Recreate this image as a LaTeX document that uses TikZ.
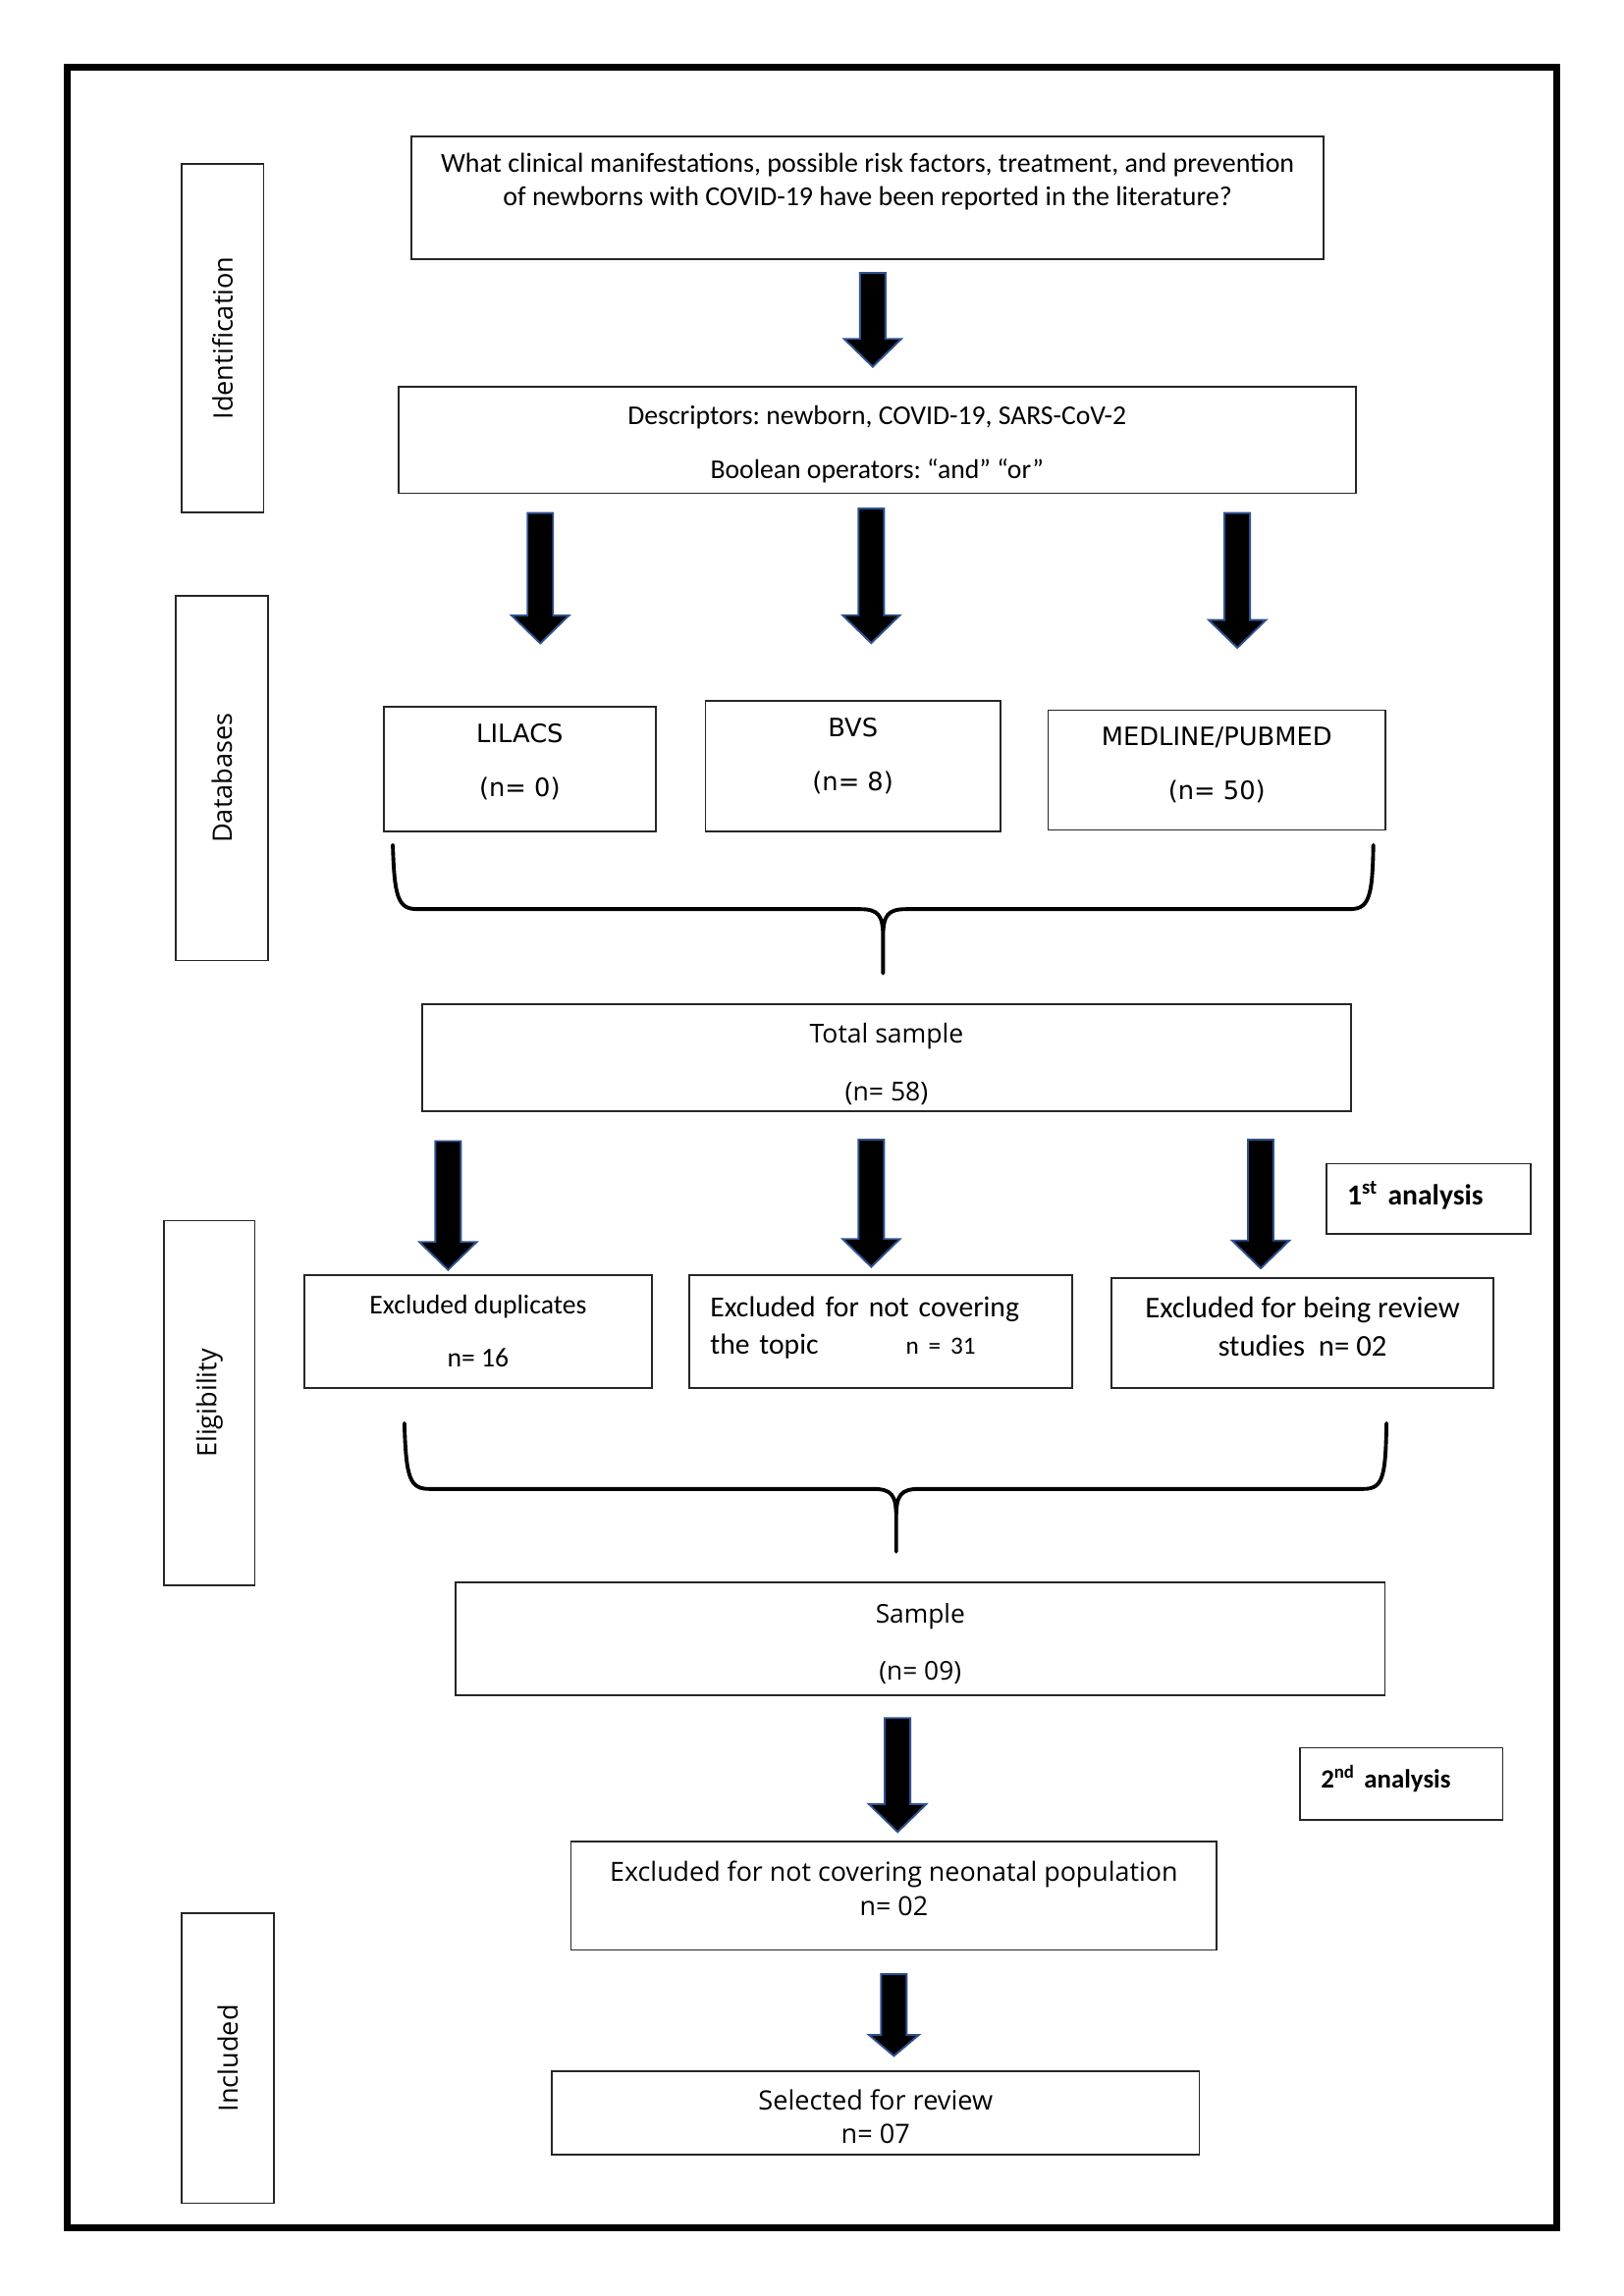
\documentclass[tikz,border=0pt]{standalone}
\usepackage{fontspec}
\setmainfont{Carlito}
\newfontfamily\segoefont{Open Sans}
\newfontfamily\verdanafont{DejaVu Sans}
\usetikzlibrary{calc}
\definecolor{arrowblue}{HTML}{2F528F}
\frenchspacing

\begin{document}
\begin{tikzpicture}[
  box/.style={draw=black!85, line width=0.6pt, inner sep=0pt, align=center},
  notebox/.style={box, align=left, inner xsep=2.7mm},
  sidebox/.style={draw=black!85, line width=0.6pt, inner sep=0pt, rotate=90, font={\segoefont\fontsize{9.8}{11}\selectfont}},
  lineup/.style={text height=0pt, text depth=#1},
  linedown/.style={text height=#1, text depth=0pt},
  arrowshape/.style 2 args={to path={let \p1=(\tikztostart), \p2=(\tikztotarget) in
      (\x1-1.65mm,\y1) -- (\x1-1.65mm,\y2+#2) -- (\x1-#1,\y2+#2) -- (\x1,\y2)
      -- (\x1+#1,\y2+#2) -- (\x1+1.65mm,\y2+#2) -- (\x1+1.65mm,\y1) -- cycle}},
  blockarrow/.style={fill=black, draw=arrowblue, line width=0.7pt, arrowshape={3.7mm}{3.6mm}},
  smallarrow/.style={blockarrow, arrowshape={3.2mm}{2.7mm}},
  bracket/.style={line width=1.4pt, line cap=round}
]
\useasboundingbox (0,0) rectangle (21,-29.7);
\draw[line width=2.4pt] (0.871,-0.871) rectangle (20.129,-28.821);

% stage labels
\node[sidebox, minimum width=4.51cm, minimum height=1.06cm] (ident) at (2.878,-4.374) {Identification};
\node[sidebox, minimum width=4.72cm, minimum height=1.19cm] (dbs) at (2.869,-10.065) {Databases};
\node[sidebox, minimum width=4.72cm, minimum height=1.17cm] (elig) at (2.708,-18.150) {Eligibility};
\node[sidebox, minimum width=3.75cm, minimum height=1.19cm] (incl) at (2.945,-26.624) {Included};

% identification
\node[box, linedown=5.8pt, minimum width=11.80cm, minimum height=1.59cm, font={\fontsize{10.1}{12.2}\selectfont}] (question) at (11.220,-2.556)
  {What clinical manifestations, possible risk factors, treatment, and prevention\\of newborns with COVID-19 have been reported in the literature?};
\node[box, linedown=28.2pt, minimum width=12.38cm, minimum height=1.38cm, font={\fontsize{10}{19.9}\selectfont}] (descr) at (11.343,-5.690)
  {Descriptors: newborn, COVID-19, SARS-CoV-2\\Boolean operators: “and” “or”};

% databases
\node[box, linedown=20.2pt, minimum width=3.52cm, minimum height=1.61cm, font={\verdanafont\fontsize{9.3}{19.9}\selectfont}] (lilacs) at (6.722,-9.951) {LILACS\\(n= 0)};
\node[box, linedown=18pt, minimum width=3.81cm, minimum height=1.69cm, font={\verdanafont\fontsize{9.3}{19.9}\selectfont}] (bvs) at (11.030,-9.913) {BVS\\(n= 8)};
\node[box, linedown=21.8pt, minimum width=4.36cm, minimum height=1.55cm, font={\verdanafont\fontsize{9.3}{19.9}\selectfont}] (medline) at (15.736,-9.960) {MEDLINE/PUBMED\\(n= 50)};
\node[box, linedown=32pt, minimum width=12.02cm, minimum height=1.38cm, font={\segoefont\fontsize{9.6}{21.4}\selectfont}] (total) at (11.466,-13.681) {Total sample\\(n= 58)};

% eligibility
\node[notebox, linedown=4.3pt, text width=2.10cm, minimum height=0.91cm, font={\bfseries\fontsize{10.7}{13}\selectfont}] (first) at (18.472,-15.509) {1\textsuperscript{st} analysis};
\node[box, linedown=26pt, minimum width=4.49cm, minimum height=1.46cm, font={\fontsize{10}{19.3}\selectfont}] (dupl) at (6.183,-17.223) {Excluded duplicates\\n= 16};
\node[notebox, lineup=11.1pt, text width=4.41cm, minimum height=1.46cm, font={\fontsize{10.7}{13.9}\selectfont}] (topic) at (11.390,-17.223)
  {Excluded for not covering\\the topic\hspace{1.13cm}{\fontsize{9.1}{11}\selectfont n = 31}};
\node[box, linedown=17pt, minimum width=4.94cm, minimum height=1.42cm, font={\fontsize{11.1}{13.9}\selectfont}] (review) at (16.844,-17.241)
  {Excluded for being review\\studies~~n= 02};
\node[box, linedown=30pt, minimum width=12.02cm, minimum height=1.46cm, font={\segoefont\fontsize{9.5}{20.9}\selectfont}] (sample) at (11.901,-21.199) {Sample\\(n= 09)};
\node[notebox, linedown=3.1pt, text width=2.08cm, minimum height=0.93cm, font={\bfseries\fontsize{9.7}{12}\selectfont}] (second) at (18.122,-23.074) {2\textsuperscript{nd} analysis};
\node[box, linedown=14.5pt, minimum width=8.35cm, minimum height=1.40cm, font={\segoefont\fontsize{9.7}{12.4}\selectfont}] (neonatal) at (11.560,-24.522)
  {Excluded for not covering neonatal population\\n= 02};

% included
\node[box, linedown=22.5pt, minimum width=8.37cm, minimum height=1.08cm, font={\segoefont\fontsize{9.8}{12.4}\selectfont}] (selected) at (11.324,-27.334)
  {Selected for review\\n= 07};

% arrows
\draw[blockarrow] ([xshift=0.066cm,yshift=-0.17cm]question.south) to ([yshift=0.246cm]descr.north);
\draw[blockarrow] ([xshift=-4.356cm,yshift=-0.246cm]descr.south) to ([yshift=0.814cm]lilacs.north);
\draw[blockarrow] ([xshift=-0.076cm,yshift=-0.189cm]descr.south) to ([yshift=0.739cm]bvs.north);
\draw[blockarrow] ([xshift=4.658cm,yshift=-0.246cm]descr.south) to ([yshift=0.795cm]medline.north);
\draw[blockarrow] ([xshift=-5.672cm,yshift=-0.379cm]total.south) to ([yshift=0.057cm]dupl.north);
\draw[blockarrow] ([xshift=-0.199cm,yshift=-0.36cm]total.south) to ([yshift=0.095cm]topic.north);
\draw[blockarrow] ([xshift=4.838cm,yshift=-0.36cm]total.south) to ([yshift=0.114cm]review.north);
\draw[blockarrow] ([xshift=-0.293cm,yshift=-0.284cm]sample.south) to ([yshift=0.114cm]neonatal.north);
\draw[smallarrow] ([yshift=-0.303cm]neonatal.south) to ([yshift=0.189cm]selected.north);

% braces
\draw[bracket] (5.08,-10.93) .. controls (5.10,-11.62) and (5.15,-11.76) .. (5.40,-11.76) -- (11.12,-11.76)
  .. controls (11.36,-11.76) and (11.42,-11.84) .. (11.42,-12.12) -- (11.42,-12.59)
  (11.42,-12.12) .. controls (11.42,-11.84) and (11.48,-11.76) .. (11.72,-11.76) -- (17.45,-11.76)
  .. controls (17.70,-11.76) and (17.75,-11.62) .. (17.76,-10.93);
\draw[bracket] (5.23,-18.41) .. controls (5.25,-19.12) and (5.30,-19.26) .. (5.55,-19.26) -- (11.29,-19.26)
  .. controls (11.53,-19.26) and (11.59,-19.34) .. (11.59,-19.62) -- (11.59,-20.07)
  (11.59,-19.62) .. controls (11.59,-19.34) and (11.65,-19.26) .. (11.89,-19.26) -- (17.63,-19.26)
  .. controls (17.88,-19.26) and (17.92,-19.12) .. (17.93,-18.41);
\end{tikzpicture}
\end{document}
